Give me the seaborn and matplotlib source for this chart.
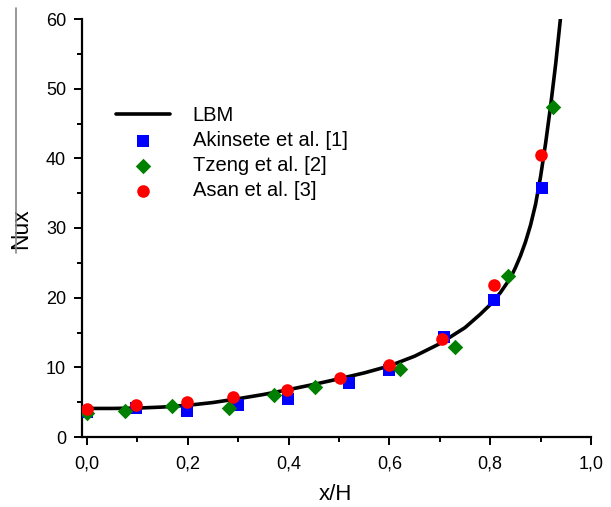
import matplotlib
matplotlib.use("Agg")
import matplotlib.pyplot as plt
from matplotlib.lines import Line2D
from matplotlib.ticker import MultipleLocator, FuncFormatter
import seaborn as sns

# LBM curve
lbm_x = [0.0, 0.05, 0.1, 0.15, 0.2, 0.25, 0.3, 0.35, 0.4, 0.45, 0.5, 0.55,
         0.6, 0.65, 0.7, 0.75, 0.78, 0.8, 0.82, 0.84, 0.85, 0.86, 0.87, 0.88,
         0.89, 0.9, 0.91, 0.92, 0.93, 0.94]
lbm_y = [4.1, 4.1, 4.15, 4.3, 4.55, 4.95, 5.5, 6.1, 6.8, 7.55, 8.35, 9.2,
         10.2, 11.6, 13.4, 15.7, 17.6, 19.0, 20.7, 22.8, 24.3, 26.0, 28.0, 30.4,
         33.4, 37.4, 42.2, 47.6, 53.6, 60.5]

akin_x = [0.0, 0.097, 0.198, 0.30, 0.398, 0.52, 0.60, 0.708, 0.807, 0.903]
akin_y = [3.6, 4.2, 3.8, 4.6, 5.4, 7.8, 9.6, 14.4, 19.7, 35.7]

tzeng_x = [0.0, 0.076, 0.169, 0.281, 0.37, 0.453, 0.621, 0.731, 0.836, 0.924]
tzeng_y = [3.5, 3.8, 4.5, 4.2, 6.0, 7.2, 9.7, 12.9, 23.1, 47.4]

asan_x = [0.0, 0.097, 0.198, 0.29, 0.397, 0.501, 0.599, 0.705, 0.807, 0.901]
asan_y = [4.0, 4.6, 5.0, 5.8, 6.7, 8.4, 10.4, 14.1, 21.8, 40.5]

sns.set_style("ticks", {"axes.edgecolor": "black", "text.color": "black",
                        "axes.labelcolor": "black", "xtick.color": "black",
                        "ytick.color": "black"})
plt.rcParams['font.family'] = ['Liberation Sans', 'DejaVu Sans']

fig = plt.figure(figsize=(6.11, 5.07), dpi=100)
ax = fig.add_axes([82/611, 1-437/507, 509/611, 418/507])

sns.lineplot(x=lbm_x, y=lbm_y, ax=ax, color='black', lw=2.6, label='LBM',
             sort=False, zorder=2)
sns.scatterplot(x=akin_x, y=akin_y, ax=ax, color='#0000ff', marker='s', s=72,
                linewidth=0, label='Akinsete et al. [1]', zorder=3)
sns.scatterplot(x=tzeng_x, y=tzeng_y, ax=ax, color='#008000', marker='D', s=62,
                linewidth=0, label='Tzeng et al. [2]', zorder=4)
sns.scatterplot(x=asan_x, y=asan_y, ax=ax, color='#ff0000', marker='o', s=82,
                linewidth=0, label='Asan et al. [3]', zorder=5)

ax.set_xlim(-0.01, 1.0)
ax.set_ylim(0, 60)
ax.xaxis.set_major_locator(MultipleLocator(0.2))
ax.xaxis.set_minor_locator(MultipleLocator(0.1))
ax.yaxis.set_major_locator(MultipleLocator(10))
ax.yaxis.set_minor_locator(MultipleLocator(5))
ax.xaxis.set_major_formatter(FuncFormatter(lambda v, p: f"{v:.1f}".replace('.', ',')))

sns.despine(ax=ax)
for s in ['left', 'bottom']:
    ax.spines[s].set_linewidth(1.6)
    ax.spines[s].set_color('black')
ax.tick_params(which='major', direction='out', length=6, width=1.4,
               labelsize=13, colors='black')
ax.tick_params(which='minor', direction='out', length=3.5, width=1.4, colors='black')
ax.tick_params(axis='x', which='major', pad=7)
ax.tick_params(axis='y', which='major', pad=5.5)

ax.set_xlabel("x/H", fontsize=16, color='black')
ax.set_ylabel("Nux", fontsize=16.5, color='black')
ax.xaxis.set_label_coords(0.497, -0.113)
ax.yaxis.set_label_coords(-0.098, 0.498)

leg = ax.legend(loc='upper left', bbox_to_anchor=(0.067, 0.792), frameon=False,
                fontsize=14.5, borderpad=0, handlelength=2.7, handletextpad=1.1,
                labelspacing=0.3, borderaxespad=0)
for t in leg.get_texts():
    t.set_color('black')

# thin gray rule at the far left of the figure
fig.add_artist(Line2D([15.7/611, 15.7/611], [1-8/507, 1-253/507],
                      color='#888888', lw=1.2, transform=fig.transFigure))

fig.savefig("out.png", dpi=100)
